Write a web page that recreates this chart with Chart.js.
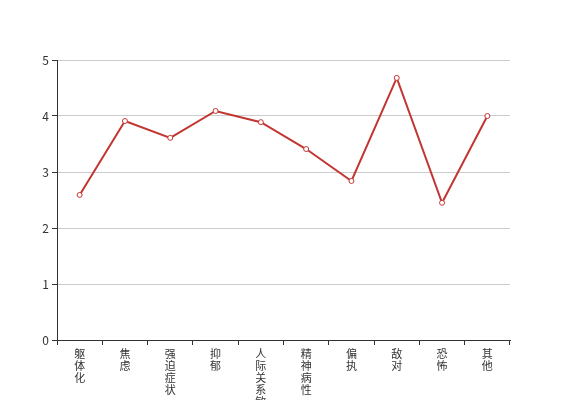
<!DOCTYPE html>
<html>
<head>
<meta charset="utf-8">
<script src="https://cdn.jsdelivr.net/npm/chart.js@4/dist/chart.umd.min.js"></script>
<style>
  html, body { margin: 0; padding: 0; background: #fff; }
  #wrap { width: 567px; height: 400px; }
</style>
</head>
<body>
<div id="wrap"><canvas id="chart" width="567" height="400"></canvas></div>
<script>
var categories = ['躯体化', '焦虑', '强迫症状', '抑郁', '人际关系敏感', '精神病性', '偏执', '敌对', '恐怖', '其他'];
var scores = [2.59, 3.91, 3.61, 4.09, 3.89, 3.41, 2.84, 4.68, 2.45, 4.0];
var yTicks = [0, 1, 2, 3, 4, 5];

var red = '#c23531';
var axisColor = '#333';
var fontFamily = "'Noto Sans CJK SC', 'DejaVu Sans', sans-serif";

// vertical labels: one character per line
var labels = categories.map(function (c) { return c.split(''); });

var ctx = document.getElementById('chart').getContext('2d');
var myChart = new Chart(ctx, {
    type: 'line',
    data: {
        labels: labels,
        datasets: [{
            label: 'score',
            data: scores,
            borderColor: red,
            borderWidth: 2,
            pointRadius: 2.5,
            pointBorderWidth: 1,
            pointBackgroundColor: '#fff',
            pointBorderColor: red,
            tension: 0
        }]
    },
    options: {
        responsive: false,
        animation: false,
        layout: { padding: { top: 60, right: 57, left: 0, bottom: 0 } },
        plugins: { legend: { display: false }, tooltip: { enabled: false } },
        scales: {
            x: {
                offset: true,
                grid: { offset: true, drawOnChartArea: false, drawTicks: true, tickLength: 5, tickColor: axisColor },
                border: { color: axisColor, width: 1 },
                ticks: {
                    autoSkip: false, maxRotation: 0, minRotation: 0, padding: 3,
                    color: axisColor, font: { family: fontFamily, size: 11, lineHeight: '12px' }
                },
                afterFit: function (scale) { scale.height = 60; }
            },
            y: {
                min: 0, max: 5,
                afterBuildTicks: function (scale) {
                    scale.ticks = yTicks.map(function (v) { return { value: v }; });
                },
                grid: { color: '#ccc', tickLength: 5, tickColor: axisColor },
                border: { color: axisColor, width: 1 },
                ticks: { padding: 3, color: axisColor, font: { family: fontFamily, size: 12 } },
                afterFit: function (scale) { scale.width = 57; }
            }
        }
    }
});
</script>
</body>
</html>
